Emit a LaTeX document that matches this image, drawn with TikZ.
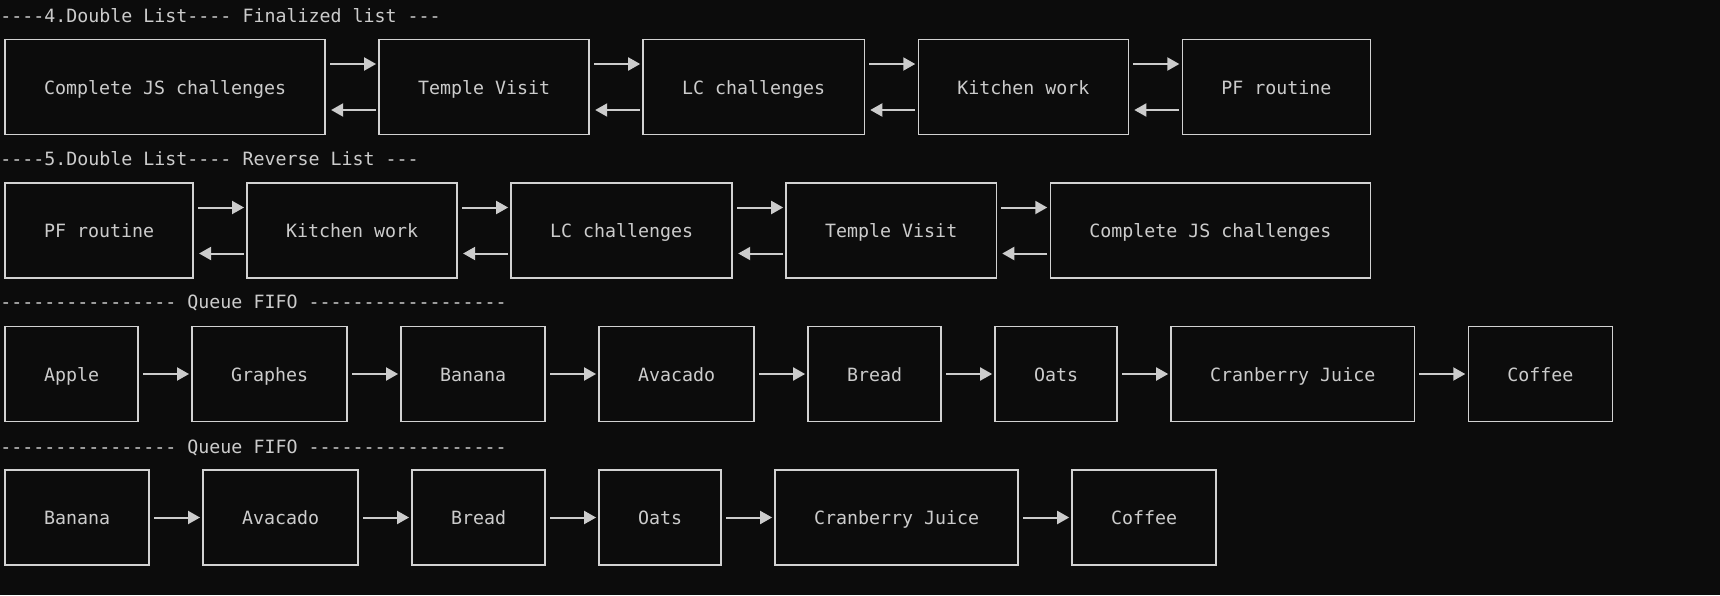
\documentclass[tikz,border=0pt]{standalone}
\usepackage{fontspec}
\setmonofont{DejaVu Sans Mono}
\usepackage{tikz}
\usetikzlibrary{positioning, arrows.meta}

\definecolor{termbg}{HTML}{0C0C0C}
\definecolor{termfg}{HTML}{CCCCCC}
\definecolor{termline}{HTML}{D2D2D2}

\tikzset{
	listbox/.style = {draw = termline, line width = 0.75pt, text = termfg, inner xsep = 19.5pt, outer sep = 0pt, text height = 9pt, text depth = 1.8pt, minimum height = 47.5pt, font = \ttfamily\fontsize{9.14pt}{11pt}\selectfont},
	title/.style = {anchor = west, inner sep = 0pt, text = termfg, font = \ttfamily\fontsize{9.14pt}{11pt}\selectfont},
	link/.style = {draw = termfg, line width = 1pt, -{Triangle[length = 6pt, width = 6.5pt]}, shorten < = 2.5pt, shorten > = 1.5pt},
	back/.style = {draw = termfg, line width = 1pt, -{Triangle[length = 6pt, width = 6.5pt]}, shorten < = 1.5pt, shorten > = 3pt}
}

\begin{document}
\begin{tikzpicture}[x = 0.5pt, y = -0.5pt]
			\fill[termbg] (0,0) rectangle (1720,595);
			\useasboundingbox (0,0) rectangle (1720,595);

			\node[title] (titleA) at (0,15.5) {----4.Double List---- Finalized list ---};
			\node[listbox, anchor = west] (fA) at (5,87) {Complete JS challenges};
			\node[listbox, right = 27pt of fA] (fB) {Temple Visit};
			\node[listbox, right = 27pt of fB] (fC) {LC challenges};
			\node[listbox, right = 27pt of fC] (fD) {Kitchen work};
			\node[listbox, right = 27pt of fD] (fE) {PF routine};
			\foreach \a/\b in {fA/fB, fB/fC, fC/fD, fD/fE} {
				\draw[link] ([yshift = 11.5pt]\a.east) -- ([yshift = 11.5pt]\b.west);
				\draw[back] ([yshift = -11.5pt]\b.west) -- ([yshift = -11.5pt]\a.east);
			}

			\node[title] (titleB) at (0,159) {----5.Double List---- Reverse List ---};
			\node[listbox, anchor = west] (rA) at (5,230.5) {PF routine};
			\node[listbox, right = 27pt of rA] (rB) {Kitchen work};
			\node[listbox, right = 27pt of rB] (rC) {LC challenges};
			\node[listbox, right = 27pt of rC] (rD) {Temple Visit};
			\node[listbox, right = 27pt of rD] (rE) {Complete JS challenges};
			\foreach \a/\b in {rA/rB, rB/rC, rC/rD, rD/rE} {
				\draw[link] ([yshift = 11.5pt]\a.east) -- ([yshift = 11.5pt]\b.west);
				\draw[back] ([yshift = -11.5pt]\b.west) -- ([yshift = -11.5pt]\a.east);
			}

			\node[title] (titleC) at (0,303) {---------------- Queue FIFO ------------------};
			\node[listbox, anchor = west] (qA) at (5,374) {Apple};
			\node[listbox, right = 27pt of qA] (qB) {Graphes};
			\node[listbox, right = 27pt of qB] (qC) {Banana};
			\node[listbox, right = 27pt of qC] (qD) {Avacado};
			\node[listbox, right = 27pt of qD] (qE) {Bread};
			\node[listbox, right = 27pt of qE] (qF) {Oats};
			\node[listbox, right = 27pt of qF] (qG) {Cranberry Juice};
			\node[listbox, right = 27pt of qG] (qH) {Coffee};
			\foreach \a/\b in {qA/qB, qB/qC, qC/qD, qD/qE, qE/qF, qF/qG, qG/qH}
				\draw[link] (\a.east) -- (\b.west);

			\node[title] (titleD) at (0,447.5) {---------------- Queue FIFO ------------------};
			\node[listbox, anchor = west] (pA) at (5,517.5) {Banana};
			\node[listbox, right = 27pt of pA] (pB) {Avacado};
			\node[listbox, right = 27pt of pB] (pC) {Bread};
			\node[listbox, right = 27pt of pC] (pD) {Oats};
			\node[listbox, right = 27pt of pD] (pE) {Cranberry Juice};
			\node[listbox, right = 27pt of pE] (pF) {Coffee};
			\foreach \a/\b in {pA/pB, pB/pC, pC/pD, pD/pE, pE/pF}
				\draw[link] (\a.east) -- (\b.west);
		\end{tikzpicture}
\end{document}
